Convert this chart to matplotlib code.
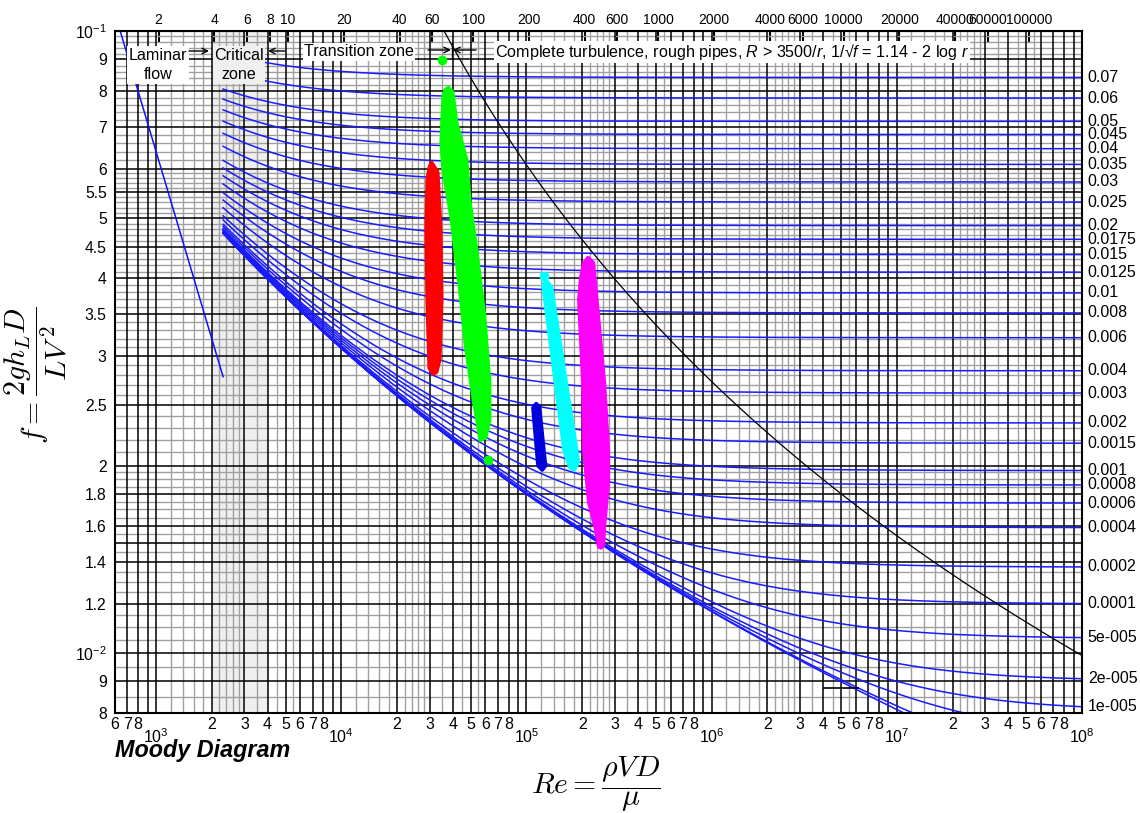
import numpy as np
import matplotlib
matplotlib.use("Agg")
import matplotlib.pyplot as plt
from matplotlib.ticker import FixedLocator, FixedFormatter, NullLocator, NullFormatter
import matplotlib.transforms as mtransforms

plt.rcParams['font.family'] = ['Liberation Sans', 'DejaVu Sans']
plt.rcParams['mathtext.fontset'] = 'custom'
plt.rcParams['mathtext.rm'] = 'Liberation Sans'
plt.rcParams['mathtext.it'] = 'Liberation Sans:italic'
plt.rcParams['mathtext.bf'] = 'Liberation Sans:bold'

# ---------------- data ----------------
roughness = [0.07, 0.06, 0.05, 0.045, 0.04, 0.035, 0.03, 0.025, 0.02, 0.0175,
             0.015, 0.0125, 0.01, 0.008, 0.006, 0.004, 0.003, 0.002, 0.0015,
             0.001, 0.0008, 0.0006, 0.0004, 0.0002, 0.0001, 5e-5, 2e-5, 1e-5,
             5e-6, 1e-6, 0.0]
roughness_labels = ['0.07', '0.06', '0.05', '0.045', '0.04', '0.035', '0.03',
                    '0.025', '0.02', '0.0175', '0.015', '0.0125', '0.01',
                    '0.008', '0.006', '0.004', '0.003', '0.002', '0.0015',
                    '0.001', '0.0008', '0.0006', '0.0004', '0.0002', '0.0001',
                    '5e-005', '2e-005', '1e-005', '', '', '']
turb_re_start = 2300.0
re_max = 1e8

laminar_re = [640, 2300]
laminar_f = [0.1, 0.0278]

critical_zone = [2000, 4000]

stray_re = [4.02e6, 6.14e6]
stray_f = [0.00879, 0.00879]

red_re = [30690, 33070, 34320, 34750, 33900, 32660, 31460, 29940, 29210, 28850, 29210, 29940]
red_f = [0.0614, 0.0593, 0.0479, 0.0369, 0.0296, 0.0283, 0.0281, 0.0287, 0.0369, 0.0479, 0.0576, 0.0602]

green_re = [37900, 39820, 41850, 47380, 49180, 53640, 59240, 63040, 63040, 59980,
            56380, 55680, 51690, 47380, 43440, 39330, 35620, 34750, 35620, 36520]
green_f = [0.0810, 0.0798, 0.0711, 0.0620, 0.0535, 0.0444, 0.0347, 0.0272, 0.0237, 0.0222,
           0.0220, 0.0226, 0.0258, 0.0307, 0.0393, 0.0502, 0.0598, 0.0661, 0.0784, 0.0804]
green_dots_re = [35180, 62250]
green_dots_f = [0.0898, 0.0204]

blue_re = [112900, 117200, 126300, 121700, 115800, 108800]
blue_f = [0.02513, 0.02485, 0.01999, 0.01970, 0.01999, 0.02476]

cyan_re = [127900, 136000, 190200, 180900, 172200, 159900, 123200]
cyan_f = [0.03963, 0.03876, 0.02029, 0.01970, 0.01985, 0.02120, 0.03904]
cyan_dots_re = [124700]
cyan_dots_f = [0.04036]

magenta_re = [215300, 229100, 243800, 262600, 275900, 275900, 262600, 259300, 252900,
              246800, 237800, 218000, 204800, 202300, 192500, 197400, 204800]
magenta_f = [0.04315, 0.04236, 0.03469, 0.02716, 0.02120, 0.01877, 0.01595, 0.01492, 0.01476,
             0.01481, 0.01577, 0.01743, 0.02120, 0.02716, 0.03693, 0.04021, 0.04236]

ytick_vals = [0.1, 0.09, 0.08, 0.07, 0.06, 0.055, 0.05, 0.045, 0.04, 0.035, 0.03,
              0.025, 0.02, 0.018, 0.016, 0.014, 0.012, 0.01, 0.009, 0.008]
ytick_labels = ['$10^{-1}$', '9', '8', '7', '6', '5.5', '5', '4.5', '4', '3.5', '3',
                '2.5', '2', '1.8', '1.6', '1.4', '1.2', '$10^{-2}$', '9', '8']

top_ticks = [2, 4, 6, 8, 10, 20, 40, 60, 100, 200, 400, 600, 1000, 2000, 4000,
             6000, 10000, 20000, 40000, 60000, 100000]
top_factor = 516.0


# ---------------- helpers ----------------
def colebrook(eps, re):
    re = np.asarray(re, dtype=float)
    x = np.full_like(re, 8.0)  # 1/sqrt(f)
    for _ in range(80):
        x = -2.0 * np.log10(eps / 3.7 + 2.51 * x / re)
    return 1.0 / x ** 2


fig = plt.figure(figsize=(11.4, 8.13), dpi=100)
L, R, T, B = 115, 1082, 31, 713
ax = fig.add_axes([L / 1140, 1 - B / 813, (R - L) / 1140, (B - T) / 813])
ax.set_xscale('log')
ax.set_yscale('log')
ax.set_xlim(600, re_max)
ax.set_ylim(0.008, 0.1)


def pa(px, py):
    """pixel -> axes fraction"""
    return ((px - L) / (R - L), (B - py) / (B - T))


# critical zone shading
ax.axvspan(critical_zone[0], critical_zone[1], color='#efefef', zorder=0, lw=0)

# grid
black_v, gray_v = [], []
for d in range(2, 8):
    for k in range(1, 10):
        v = k * 10 ** d
        if 600 <= v <= re_max:
            black_v.append(v)
    for k in [1.2, 1.4, 1.6, 1.8, 2.2, 2.4, 2.6, 2.8, 3.5, 4.5, 5.5]:
        v = k * 10 ** d
        if 600 <= v <= re_max:
            gray_v.append(v)
ax.vlines(gray_v, 0.008, 0.1, color='#a0a0a0', lw=1.0, zorder=1)
ax.vlines(black_v, 0.008, 0.1, color='black', lw=1.1, zorder=1.2)

black_h = [0.008, 0.009, 0.01, 0.012, 0.014, 0.015, 0.016, 0.018, 0.02, 0.025,
           0.03, 0.035, 0.04, 0.045, 0.05, 0.055, 0.06, 0.07, 0.08, 0.09, 0.1]
gray_h = list(np.arange(0.0085, 0.0199, 0.0005)) + list(np.arange(0.021, 0.0599, 0.001)) + \
    list(np.arange(0.062, 0.0999, 0.002))
gray_h = [g for g in gray_h if min(abs(g - b) for b in black_h) > 1e-6]
ax.hlines(gray_h, 600, re_max, color='#a0a0a0', lw=1.0, zorder=1)
ax.hlines(black_h, 600, re_max, color='black', lw=1.1, zorder=1.2)

# laminar line
ax.plot(laminar_re, laminar_f, color='#1010ff', lw=1.1, zorder=3)

# turbulent curves
re_curve = np.logspace(np.log10(turb_re_start), np.log10(re_max), 400)
trans_lbl = mtransforms.blended_transform_factory(ax.transAxes, ax.transData)
for eps, lab in zip(roughness, roughness_labels):
    f = colebrook(eps, re_curve)
    ax.plot(re_curve, f, color='#1a1aff', lw=1.1, zorder=3)
    if lab:
        ax.text(1.006, f[-1], lab, transform=trans_lbl, ha='left', va='center',
                fontsize=11.5, clip_on=False)

# complete-turbulence boundary R = 3500/r
eps_b = np.logspace(np.log10(0.0975), np.log10(3.5e-5), 300)
re_b = 3500.0 / eps_b
f_b = (1.14 - 2 * np.log10(eps_b)) ** -2
ax.plot(re_b, f_b, color='black', lw=0.9, zorder=3.5)
ax.plot(stray_re, stray_f, color='black', lw=1.2, zorder=3.5)

# data clusters
for xs, ys, c in [(red_re, red_f, '#ff0000'), (green_re, green_f, '#00ff00'),
                  (blue_re, blue_f, '#0000dd'), (cyan_re, cyan_f, '#00ffff'),
                  (magenta_re, magenta_f, '#ff00ff')]:
    ax.fill(xs, ys, color=c, ec=c, lw=3, joinstyle='round', zorder=4)
ax.plot(green_dots_re, green_dots_f, 'o', color='#00ff00', ms=6, zorder=4)
ax.plot(cyan_dots_re, cyan_dots_f, 'o', color='#00ffff', ms=6, zorder=4)

# ticks
ax.xaxis.set_major_locator(FixedLocator([10 ** d for d in range(3, 9)]))
ax.xaxis.set_major_formatter(FixedFormatter(['$10^{%d}$' % d for d in range(3, 9)]))
minor_x, minor_lab = [], []
for d in range(2, 8):
    for k in range(2, 9):
        v = k * 10 ** d
        if 600 <= v <= re_max:
            minor_x.append(v)
            minor_lab.append(str(k))
ax.xaxis.set_minor_locator(FixedLocator(minor_x))
ax.xaxis.set_minor_formatter(FixedFormatter(minor_lab))
ax.tick_params(axis='x', which='major', length=0, pad=10, labelsize=11.5)
ax.tick_params(axis='x', which='minor', length=0, pad=3, labelsize=11.5)

ax.yaxis.set_major_locator(FixedLocator(ytick_vals))
ax.yaxis.set_major_formatter(FixedFormatter(ytick_labels))
ax.yaxis.set_minor_locator(NullLocator())
ax.yaxis.set_minor_formatter(NullFormatter())
ax.tick_params(axis='y', which='both', length=0, pad=6, labelsize=11.3)

for s in ax.spines.values():
    s.set_linewidth(1.5)
    s.set_zorder(6)

sec = ax.secondary_xaxis('top', functions=(lambda x: x / top_factor, lambda x: x * top_factor))
sec.xaxis.set_major_locator(FixedLocator(top_ticks))
sec.xaxis.set_major_formatter(FixedFormatter([str(t) for t in top_ticks]))
sec.xaxis.set_minor_locator(NullLocator())
sec.tick_params(axis='x', which='major', direction='in', length=8, width=1.5, pad=3, labelsize=10)

# zone texts
zfs = 11.6
tb = dict(boxstyle='square,pad=0.08', fc='white', ec='none')
ax.text(*pa(158, 65), 'Laminar\nflow', transform=ax.transAxes, ha='center', va='center',
        fontsize=zfs, linespacing=1.35, zorder=7,
        bbox=dict(boxstyle='square,pad=0.1', fc='white', ec='none'))
ax.text(*pa(239, 65), 'Critical\nzone', transform=ax.transAxes, ha='center', va='center',
        fontsize=zfs, linespacing=1.35, zorder=7,
        bbox=dict(boxstyle='square,pad=0.1', fc='#f0f0f0', ec='none'))
ax.text(*pa(359, 52), 'Transition zone', transform=ax.transAxes, ha='center', va='center',
        fontsize=zfs, zorder=7, bbox=tb)
ax.text(*pa(495, 52),
        'Complete turbulence, rough pipes, $R$ > 3500/$r$, 1/\u221a$f$ = 1.14 - 2 log $r$',
        transform=ax.transAxes, ha='left', va='center', fontsize=zfs, zorder=7, bbox=tb)

arrow_kw = dict(arrowstyle='->', lw=1.0, color='black', shrinkA=0, shrinkB=0)
ax.annotate('', xy=pa(209, 51), xytext=pa(189, 51), xycoords='axes fraction',
            textcoords='axes fraction', arrowprops=arrow_kw, zorder=8)
ax.annotate('', xy=pa(268, 51), xytext=pa(285, 51), xycoords='axes fraction',
            textcoords='axes fraction', arrowprops=arrow_kw, zorder=8)
ax.annotate('', xy=pa(451, 50), xytext=pa(428, 50), xycoords='axes fraction',
            textcoords='axes fraction', arrowprops=arrow_kw, zorder=8)
ax.annotate('', xy=pa(453, 50), xytext=pa(476, 50), xycoords='axes fraction',
            textcoords='axes fraction', arrowprops=arrow_kw, zorder=8)
ax.plot(*zip(pa(452, 43), pa(452, 58)), transform=ax.transAxes, color='black', lw=1, zorder=8)

# titles / labels
fig.text(115 / 1140, 1 - 750 / 813, 'Moody Diagram', fontsize=16.8, fontweight='bold',
         fontstyle='italic', ha='left', va='center')
fig.text(596 / 1140, 1 - 784 / 813, r'$Re = \dfrac{\rho V D}{\mu}$', math_fontfamily='cm',
         fontsize=21.5, ha='center', va='center')
fig.text(36 / 1140, 1 - 375 / 813, r'$f = \dfrac{2 g h_L D}{L V^{\,2}}$', math_fontfamily='cm',
         fontsize=21.5, ha='center', va='center', rotation=90)

fig.savefig('out.png', dpi=100, facecolor='white')
